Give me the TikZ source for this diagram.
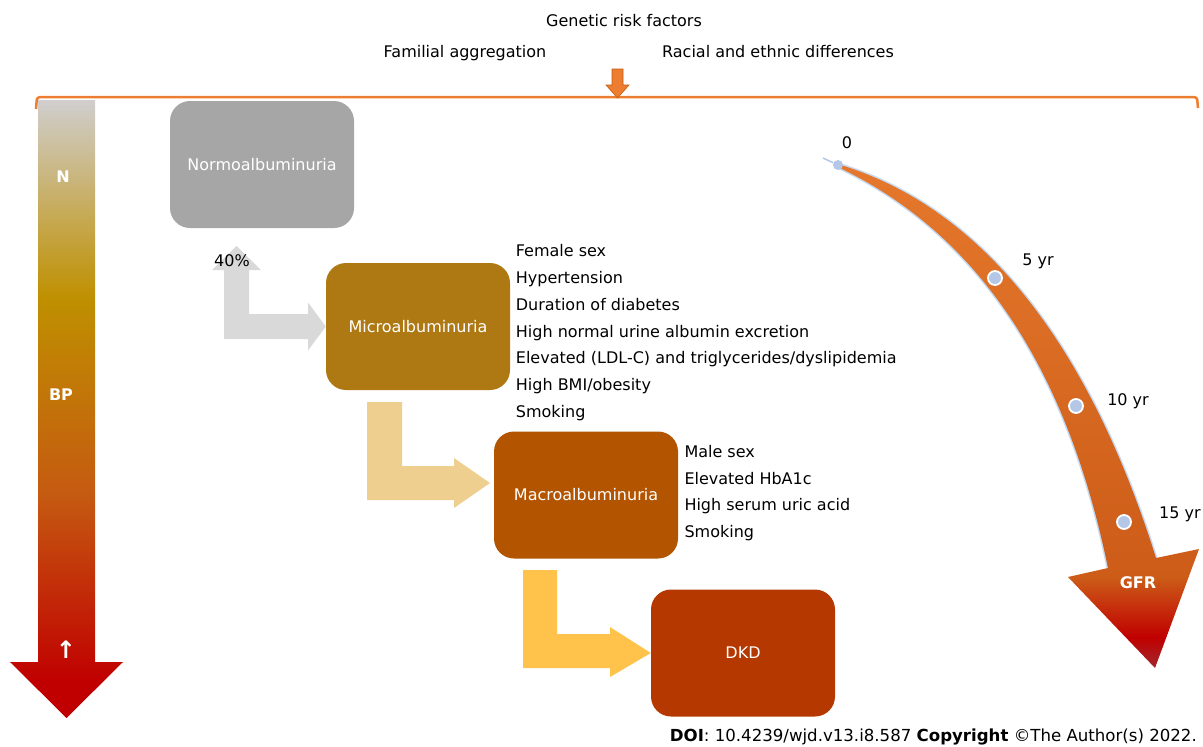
\documentclass[tikz,border=0pt]{standalone}
\usepackage{fontspec}
\setmainfont{DejaVu Sans}
\usetikzlibrary{calc}
\definecolor{bpred}{HTML}{C00000}
\definecolor{bporange}{HTML}{C55A11}
\definecolor{bpgold}{HTML}{BF9000}
\definecolor{bpgray}{HTML}{D0CECE}
\definecolor{gfrtop}{HTML}{E5782C}
\definecolor{gfrmid}{HTML}{CC5C18}
\definecolor{gfrdark}{HTML}{A0282F}
\definecolor{braceorange}{HTML}{ED7D31}
\definecolor{bracedark}{HTML}{C55A11}
\definecolor{normocol}{HTML}{A6A6A6}
\definecolor{microcol}{HTML}{AE7813}
\definecolor{macrocol}{HTML}{B25400}
\definecolor{dkdcol}{HTML}{B43800}
\definecolor{grayarrow}{HTML}{D9D9D9}
\definecolor{tanarrow}{HTML}{EFCF90}
\definecolor{yellowarrow}{HTML}{FFC24B}
\definecolor{dotblue}{HTML}{B4C7E7}
\definecolor{glowblue}{HTML}{C5D9F1}
\pgfdeclareverticalshading{bpshade}{100bp}{color(0bp)=(bpred); color(28bp)=(bpred); color(43bp)=(bporange); color(59bp)=(bpgold); color(75bp)=(bpgray); color(100bp)=(bpgray)}
\pgfdeclareverticalshading{gfrshade}{100bp}{color(0bp)=(gfrdark); color(25bp)=(gfrdark); color(28bp)=(bpred); color(34bp)=(gfrmid); color(75bp)=(gfrtop); color(100bp)=(gfrtop)}
\tikzset{
  lbl/.style={font=\fontsize{16}{19}\selectfont, inner sep=0pt},
  stage/.style={rounded corners=20pt, minimum width=184pt, minimum height=127pt, inner sep=0pt, text=white, font=\fontsize{16}{19}\selectfont},
  risk/.style={lbl, anchor=base west},
  whitebold/.style={inner sep=0pt, text=white, font=\fontsize{16}{19}\selectfont\bfseries},
  dot/.style={circle, fill=dotblue, draw=white, line width=1.8pt, minimum size=14pt, inner sep=0pt},
  bracket/.style={draw=braceorange, line width=2.5pt, rounded corners=3pt},
  glow/.style={draw=glowblue, line width=3pt},
}
\begin{document}
\begin{tikzpicture}[x=1pt,y=-1pt]
\useasboundingbox (0,0) rectangle (1203,747);

% top texts
\node[lbl, anchor=base] (gen) at (624,26) {Genetic risk factors};
\node[lbl, anchor=base] (fam) at (465,57) {Familial aggregation};
\node[lbl, anchor=base] (race) at (778,57) {Racial and ethnic differences};

% bracket line
\draw[bracket] (36,109) -- (37,97) -- (1197,97) -- (1198,108);
\coordinate (gtop) at (617.5,69);
\fill[braceorange, draw=bracedark, line width=0.6pt] (612,69) -- (623,69) -- (623,85) -- (629,85) -- (617.5,98) -- (606,85) -- (612,85) -- cycle;

% BP arrow
\shade[shading=bpshade] (38,100) -- (95,100) -- (95,662) -- (123,662) -- (66.5,718) -- (10,662) -- (38,662) -- cycle;
\node[whitebold] (nlab) at (63,177) {N};
\node[whitebold] (bplab) at (61,395) {BP};
\node[whitebold, font=\fontsize{24}{26}\selectfont\bfseries] (uplab) at (66,650) {↑};

% stages
\node[stage, fill=normocol] (normo) at (262,164.5) {Normoalbuminuria};
\node[stage, fill=microcol] (micro) at (418,326.5) {Microalbuminuria};
\node[stage, fill=macrocol] (macro) at (586,495) {Macroalbuminuria};
\node[stage, fill=dkdcol] (dkd) at (743,653) {DKD};

% block arrows
\fill[grayarrow] (224,339) -- (224,270) -- (212,270) -- (236.5,246) -- (261,270) -- (249,270) -- (249,314) -- (308,314) -- (308,302.5) -- (micro.west) -- (308,350.5) -- (308,339) -- cycle;
\node[lbl] (pct) at (232,261) {40\%};
\fill[tanarrow] (367,402) -- (402,402) -- (402,466) -- (454,466) -- (454,458) -- (490,483) -- (454,508) -- (454,500) -- (367,500) -- cycle;
\fill[yellowarrow] (523,570) -- (557,570) -- (557,634) -- (610,634) -- (610,627) -- (dkd.west) -- (610,677) -- (610,668) -- (523,668) -- cycle;

% risk factor lists
\foreach \t [count=\i] in {Female sex,Hypertension,Duration of diabetes,High normal urine albumin excretion,Elevated (LDL-C) and triglycerides/dyslipidemia,High BMI/obesity,Smoking}
  \node[risk] (mr\i) at (515.7,{256.7+26.77*(\i-1)}) {\t};
\foreach \t [count=\i] in {Male sex,Elevated HbA1c,High serum uric acid,Smoking}
  \node[risk] (ar\i) at (684.3,{457.7+26.5*(\i-1)}) {\t};

% GFR curved arrow
\draw[glow] (839.5,164.6) .. controls (1011.9,216.8) and (1105.1,396.1) .. (1156,558);
\draw[glow] (1108,568) .. controls (1074.3,404.5) and (1001.1,244.8) .. (838.5,167.4);
\shade[shading=gfrshade] (839.5,164.6) .. controls (1011.9,216.8) and (1105.1,396.1) .. (1156,558)
  -- (1199,549) -- (1155,668) -- (1068,577) -- (1108,568)
  .. controls (1074.3,404.5) and (1001.1,244.8) .. (838.5,167.4) -- cycle;
\coordinate (tail) at (823,158);
\node[circle, fill=dotblue, minimum size=10pt, inner sep=0pt] (d0) at (838,165) {};
\draw[dotblue, line width=1.5pt] (tail) -- (d0);
\node[dot] (d5) at (995,278) {};
\node[dot] (d10) at (1076,406) {};
\node[dot] (d15) at (1124,522) {};
\node[lbl] (l0) at (847,143) {0};
\node[lbl] (l5) at (1038,261) {5 yr};
\node[lbl] (l10) at (1128,401) {10 yr};
\node[lbl, anchor=west] (l15) at (1159,514) {15 yr};
\node[whitebold] (gfr) at (1138,583) {GFR};

% source line
\node[lbl, anchor=base east, font=\fontsize{16.6}{19}\selectfont] (doi) at (1197,741) {\textbf{DOI}: 10.4239/wjd.v13.i8.587 \textbf{Copyright} ©The Author(s) 2022.};
\end{tikzpicture}
\end{document}
